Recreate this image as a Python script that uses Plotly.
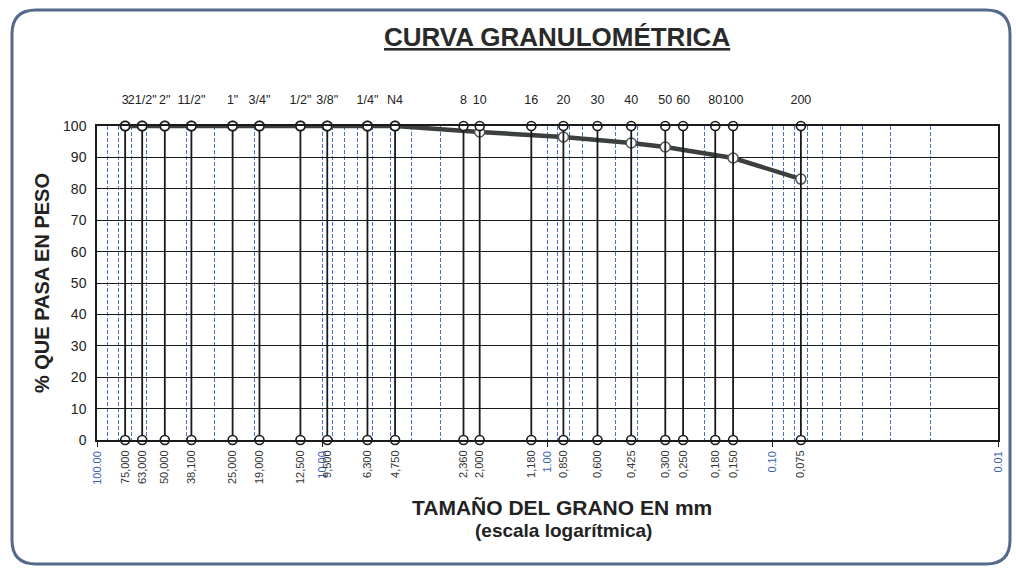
import plotly.graph_objects as go

# ---- data ----
sieve_mm = [75.0, 63.0, 50.0, 38.1, 25.0, 19.0, 12.5, 9.5, 6.3, 4.75,
            2.36, 2.0, 1.18, 0.85, 0.6, 0.425, 0.3, 0.25, 0.18, 0.15, 0.075]
sieve_names = ['3', '21/2"', '2"', '11/2"', '1"', '3/4"', '1/2"', '3/8"', '1/4"', 'N4',
               '8', '10', '16', '20', '30', '40', '50', '60', '80', '100', '200']
sieve_labels = ['75,000', '63,000', '50,000', '38,100', '25,000', '19,000', '12,500', '9,500',
                '6,300', '4,750', '2,360', '2,000', '1,180', '0,850', '0,600', '0,425',
                '0,300', '0,250', '0,180', '0,150', '0,075']
decade_vals = [100, 10, 1, 0.1, 0.01]
decade_labels = ['100.00', '10.00', '1.00', '0.10', '0.01']

curve_mm = [75.0, 63.0, 50.0, 38.1, 25.0, 19.0, 12.5, 9.5, 6.3, 4.75,
            2.0, 0.85, 0.425, 0.3, 0.15, 0.075]
curve_pass = [100, 100, 100, 100, 100, 100, 100, 100, 100, 100,
              98.1, 96.5, 94.6, 93.3, 89.8, 83.1]

FONT = "Liberation Sans, Arial, sans-serif"
XR = [2, -2]
L, R, T, B = 97, 18, 126, 129
pw = 1016 - L - R
ph = 569 - T - B


def px(xp):
    return (xp - L) / pw


def py(yp):
    return (569 - B - yp) / ph


fig = go.Figure()

# sieve reference lines (0 to 100) with open circles at ends
sx, sy = [], []
for s in sieve_mm:
    sx += [s, s, None]
    sy += [0, 100, None]
fig.add_trace(go.Scatter(
    x=sx, y=sy, mode="lines+markers", xaxis="x2",
    line=dict(color="#1a1a1a", width=1.8),
    marker=dict(symbol="circle", size=9, color="white", line=dict(color="#1a1a1a", width=1.6)),
    cliponaxis=False, hoverinfo="skip", showlegend=False))

# invisible trace for bottom sieve label axis
fig.add_trace(go.Scatter(x=sieve_mm, y=[0] * len(sieve_mm), xaxis="x3", mode="markers",
                         marker=dict(opacity=0), hoverinfo="skip", showlegend=False))

# granulometric curve
fig.add_trace(go.Scatter(
    x=curve_mm, y=curve_pass, mode="lines+markers",
    line=dict(color="#3b3f3d", width=4.5),
    marker=dict(symbol="circle", size=10, color="white", line=dict(color="#555", width=1.5)),
    cliponaxis=False, showlegend=False))

dec_text = ['<span style="color:#3b5fb5">%s</span>' % t for t in decade_labels]
GRID_BLUE = "#4a72c8"

fig.update_layout(
    width=1016, height=569,
    margin=dict(l=L, r=R, t=T, b=B, autoexpand=False),
    paper_bgcolor="white", plot_bgcolor="white",
    font=dict(family=FONT, color="#222"),
    showlegend=False,
    xaxis=dict(
        type="log", range=XR, tickvals=decade_vals, ticktext=dec_text, automargin=False,
        tickangle=-90, tickfont=dict(size=11),
        showgrid=True, gridcolor=GRID_BLUE, griddash="4px,2px", gridwidth=1.3,
        minor=dict(dtick="D1", showgrid=True, gridcolor=GRID_BLUE, griddash="4px,2px", gridwidth=1.3),
        showline=True, linecolor="#1a1a1a", linewidth=1.5, mirror=True,
        ticks="outside", ticklen=5, tickcolor="#1a1a1a", zeroline=False,
    ),
    xaxis2=dict(
        type="log", range=XR, overlaying="x", side="top", automargin=False,
        tickvals=sieve_mm, ticktext=sieve_names, tickangle=0,
        tickfont=dict(size=12.5, color="#222"),
        showgrid=False, showline=False, ticks="outside", ticklen=16, tickcolor="rgba(0,0,0,0)",
    ),
    xaxis3=dict(
        type="log", range=XR, overlaying="x", side="bottom", automargin=False,
        tickvals=sieve_mm, ticktext=sieve_labels, tickangle=-90,
        tickfont=dict(size=11, color="#333"),
        showgrid=False, showline=False, ticks="outside", ticklen=5, tickcolor="rgba(0,0,0,0)",
    ),
    yaxis=dict(
        range=[0, 100], tickvals=list(range(0, 101, 10)), automargin=False,
        tickfont=dict(size=14, color="#222"),
        showgrid=True, gridcolor="#1a1a1a", gridwidth=1.2,
        showline=True, linecolor="#1a1a1a", linewidth=1.5, mirror=True,
        zeroline=False, ticks="", ticklabelstandoff=6,
        title=dict(text="<b>% QUE PASA EN PESO</b>", font=dict(size=20, color="#222"), standoff=8),
    ),
    annotations=[
        dict(text="<b><u>CURVA GRANULOMÉTRICA</u></b>", x=px(557), y=py(37),
             xanchor="center", yanchor="middle",
             xref="paper", yref="paper", showarrow=False, font=dict(size=26, color="#2a2a2a")),
        dict(text="<b>TAMAÑO DEL GRANO EN mm</b>", x=px(562), y=py(507),
             xanchor="center", yanchor="middle", xref="paper", yref="paper",
             showarrow=False, font=dict(size=21, color="#222")),
        dict(text="<b>(escala logarítmica)</b>", x=px(563), y=py(530),
             xanchor="center", yanchor="middle", xref="paper", yref="paper",
             showarrow=False, font=dict(size=19, color="#222")),
    ],
)

# rounded frame around whole chart
x0, x1, y0, y1, r = 12, 1010, 10, 564, 24
frame = (f"M {px(x0 + r)} {py(y0)} L {px(x1 - r)} {py(y0)} "
         f"Q {px(x1)} {py(y0)} {px(x1)} {py(y0 + r)} L {px(x1)} {py(y1 - r)} "
         f"Q {px(x1)} {py(y1)} {px(x1 - r)} {py(y1)} L {px(x0 + r)} {py(y1)} "
         f"Q {px(x0)} {py(y1)} {px(x0)} {py(y1 - r)} L {px(x0)} {py(y0 + r)} "
         f"Q {px(x0)} {py(y0)} {px(x0 + r)} {py(y0)} Z")
fig.layout.shapes = [dict(type="path", xref="paper", yref="paper", path=frame,
                          line=dict(color="#55698c", width=3), layer="below")]

fig.write_html("out.html", config={"displayModeBar": False},
               post_script="document.body.style.margin='0';")
